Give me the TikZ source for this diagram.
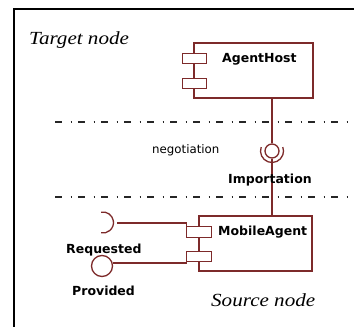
\documentclass[tikz,border=0pt]{standalone}
\usepackage{fontspec}
\newfontfamily\uifont{DejaVu Sans}
\newfontfamily\ttlfont{Liberation Serif}[FakeStretch=1.14]
\definecolor{comp}{RGB}{125,42,42}
\begin{document}
\begin{tikzpicture}[x=1pt,y=-1pt,
  compline/.style={draw=comp,line width=1.3pt},
  compbox/.style={compline,fill=white,inner sep=0pt,outer sep=0pt},
  port/.style={compbox,minimum width=24.5pt,minimum height=10.5pt},
  lbl/.style={inner sep=0pt,anchor=base west,font=\uifont\bfseries\fontsize{12.5}{14}\selectfont},
  plain/.style={inner sep=0pt,anchor=base west,font=\uifont\fontsize{11.8}{13}\selectfont},
  ttl/.style={inner sep=0pt,anchor=base west,font=\ttlfont\itshape\fontsize{18.5}{20}\selectfont},
  sep/.style={line width=1.7pt,draw=black!85,dash pattern=on 6.5pt off 9pt on 1.5pt off 6pt}]
\useasboundingbox[fill=white] (0,0) rectangle (354,327);
% frame
\coordinate (fa) at (354,9);
\coordinate (fb) at (14,9);
\coordinate (fc) at (14,327);
\draw[line width=2pt] (fa) -- (fb) -- (fc);
% titles
\node[ttl] (tn) at (29,44.5) {Target node};
\node[ttl] (sn) at (211,306) {Source node};
% separators
\coordinate (s1a) at (55,122); \coordinate (s1b) at (354,122);
\coordinate (s2a) at (55,197); \coordinate (s2b) at (354,197);
\draw[sep] (s1a) -- (s1b);
\draw[sep] (s2a) -- (s2b);
% AgentHost component
\node[compbox,minimum width=119pt,minimum height=55pt] (ah) at (253.5,70.5) {};
\node[port] (ahp1) at (194.5,58.5) {};
\node[port] (ahp2) at (194.5,83.5) {};
\node[lbl] (ahl) at (222,62.5) {AgentHost};
% MobileAgent component
\node[compbox,minimum width=113pt,minimum height=55pt] (ma) at (255.5,243.5) {};
\node[port] (map1) at (199,232) {};
\node[port] (map2) at (199,256.5) {};
\node[lbl] (mal) at (218,235) {MobileAgent};
% importation interface
\node[compline,circle,minimum size=14pt,inner sep=0pt] (ball) at (272,151) {};
\coordinate (ahb) at (272,98);
\coordinate (mat) at (272,216);
\draw[compline] (ahb) -- (ball.north);
\draw[compline] (ball.south) -- (mat);
\draw[compline] ([shift={(-160:11.5)}]ball.center) arc[start angle=-160,end angle=-380,radius=11.5];
\node[plain] (neg) at (152,153.5) {negotiation};
\node[lbl] (imp) at (228,183) {Importation};
% requested / provided
\coordinate (rq) at (103,222.5);
\draw[compline] ([shift={(-100:10.5)}]rq) arc[start angle=-100,end angle=100,radius=10.5];
\coordinate (rqe) at (117,223);
\draw[compline] (rqe) -| (map1.north west);
\node[compline,circle,minimum size=21pt,inner sep=0pt] (pv) at (102,266) {};
\draw[compline] (pv.east |- 0,263) -| (map2.south west);
\node[lbl] (rql) at (66,253) {Requested};
\node[lbl] (pvl) at (72,295) {Provided};
\end{tikzpicture}
\end{document}
